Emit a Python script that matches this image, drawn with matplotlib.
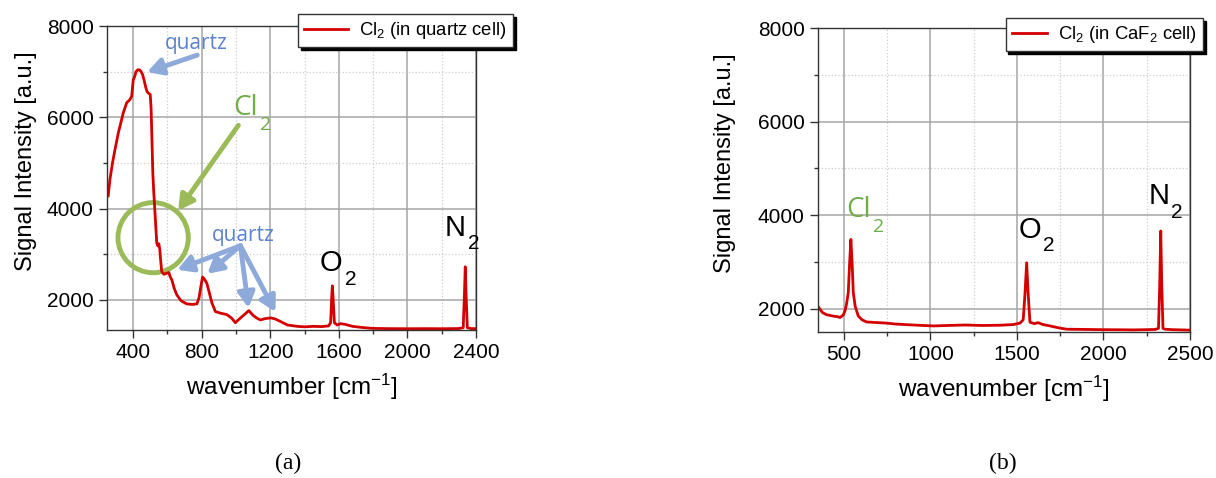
import numpy as np
import matplotlib
matplotlib.use('Agg')
import matplotlib.pyplot as plt
from matplotlib.patches import Ellipse
from matplotlib.ticker import MultipleLocator

plt.rcParams['font.family'] = ['Liberation Sans', 'DejaVu Sans']
plt.rcParams['mathtext.default'] = 'regular'

# panel (a): Cl2 in quartz cell
wn_a = [255, 265, 280, 295, 314, 330, 343, 363, 380, 392, 401, 410, 417, 427, 437, 447,
        456, 465, 475, 482, 489, 500, 505, 509, 515, 520, 528, 538, 545, 550, 556, 560,
        567, 580, 597, 609, 615, 626, 640, 655, 680, 713, 745, 772, 785, 792, 805, 815,
        830, 845, 860, 880, 909, 947, 975, 996, 1025, 1050, 1075, 1100, 1122, 1143, 1170,
        1205, 1230, 1260, 1300, 1358, 1400, 1450, 1500, 1540, 1552, 1558, 1562, 1566,
        1574, 1590, 1610, 1640, 1680, 1750, 1800, 1900, 2000, 2100, 2200, 2300, 2325,
        2332, 2337, 2342, 2349, 2370, 2400]
int_a = [4280, 4640, 5000, 5300, 5660, 5900, 6100, 6320, 6380, 6460, 6820, 6900, 7000,
         7040, 7040, 7000, 6930, 6800, 6640, 6560, 6530, 6500, 6200, 5660, 4800, 4400,
         3890, 3250, 3180, 3230, 3100, 2900, 2620, 2560, 2585, 2600, 2520, 2440, 2250,
         2110, 1980, 1912, 1900, 1912, 2050, 2220, 2500, 2460, 2365, 2150, 1930, 1745,
         1710, 1677, 1600, 1500, 1600, 1680, 1765, 1660, 1600, 1560, 1590, 1605, 1580,
         1525, 1450, 1420, 1410, 1420, 1415, 1430, 1500, 2050, 2308, 2050, 1500, 1450,
         1480, 1460, 1420, 1390, 1375, 1370, 1368, 1370, 1368, 1372, 1390, 2100, 2725,
         2100, 1390, 1372, 1370]

# panel (b): Cl2 in CaF2 cell
wn_b = [355, 376, 400, 438, 460, 477, 495, 506, 515, 525, 533, 540, 547, 554, 565, 583,
        605, 631, 700, 747, 800, 900, 1016, 1100, 1200, 1300, 1401, 1480, 1517, 1536,
        1546, 1556, 1565, 1575, 1600, 1623, 1650, 1691, 1740, 1787, 1900, 2000, 2100,
        2172, 2250, 2300, 2318, 2325, 2331, 2337, 2344, 2355, 2400, 2450, 2500]
int_b = [2020, 1915, 1870, 1840, 1830, 1810, 1860, 1950, 2100, 2340, 3000, 3480, 3000,
         2340, 2050, 1840, 1760, 1715, 1700, 1690, 1670, 1650, 1630, 1640, 1650, 1640,
         1645, 1660, 1690, 1760, 2300, 2980, 2300, 1710, 1680, 1700, 1660, 1630, 1590,
         1560, 1555, 1550, 1548, 1545, 1550, 1555, 1580, 2500, 3660, 2500, 1580, 1560,
         1550, 1545, 1540]

line_red = '#d40000'
blue_txt = '#5b82cc'
blue_arr = '#8eaadb'
green = '#70ad47'
green_arr = '#9bbb59'

fig = plt.figure(figsize=(12.16, 4.78), dpi=100)
ax1 = fig.add_axes([0.088, 0.3096, 0.3035, 0.636])
ax2 = fig.add_axes([0.6727, 0.3054, 0.3059, 0.636])


def style(ax, xmaj, xmin, ylab_x):
    ax.xaxis.set_major_locator(MultipleLocator(xmaj))
    ax.xaxis.set_minor_locator(MultipleLocator(xmin))
    ax.yaxis.set_major_locator(MultipleLocator(2000))
    ax.yaxis.set_minor_locator(MultipleLocator(1000))
    ax.grid(which='major', color='#a6a6a6', linestyle='-', linewidth=1.1)
    ax.grid(which='minor', color='#cccccc', linestyle=':', linewidth=0.9)
    ax.set_axisbelow(True)
    ax.tick_params(which='major', direction='out', length=6, width=1, labelsize=15,
                   color='#333333')
    ax.tick_params(which='minor', direction='out', length=3, width=1, color='#333333')
    for s in ax.spines.values():
        s.set_color('#333333')
        s.set_linewidth(1)
    ax.set_xlabel('wavenumber [cm$^{-1}$]', fontsize=17.5, labelpad=7)
    ax.set_ylabel('Signal Intensity [a.u.]', fontsize=17)
    ax.yaxis.set_label_coords(ylab_x, 0.556)


ax1.plot(wn_a, int_a, color=line_red, lw=2, label='Cl$_2$ (in quartz cell)')
ax1.set_xlim(248, 2400)
ax1.set_ylim(1340, 8000)
style(ax1, 400, 200, -0.19)

ax2.plot(wn_b, int_b, color=line_red, lw=2, label='Cl$_2$ (in CaF$_2$ cell)')
ax2.set_xlim(350, 2500)
ax2.set_ylim(1500, 8000)
style(ax2, 500, 250, -0.22)

for ax, anchor, hl in [(ax1, (0.4219, 0.9707), 2.4), (ax2, (0.9893, 0.9623), 1.9)]:
    leg = ax.legend(loc='upper right', bbox_to_anchor=anchor, bbox_transform=fig.transFigure,
                    fontsize=13.3, fancybox=False, framealpha=1, edgecolor='#333333',
                    shadow={'color': 'black', 'alpha': 1}, handlelength=hl,
                    borderpad=0.33, handletextpad=0.6, borderaxespad=0)
    leg.get_frame().set_linewidth(1)

renderer = fig.canvas.get_renderer()


def chem(ax, x, y, main, sub, size=21, subsize=15, drop=9.5, **kw):
    t = ax.text(x, y, main, fontsize=size, ha='left', va='baseline', **kw)
    bb = t.get_window_extent(renderer)
    base = ax.transData.transform((x, y))[1]
    ax.annotate(sub, xy=(bb.x1, base), xycoords='figure pixels', xytext=(1.5, -drop),
                textcoords='offset points', fontsize=subsize, ha='left', va='baseline',
                annotation_clip=False, **kw)


arrow_kw = dict(arrowstyle='-|>,head_width=0.5,head_length=0.9', lw=3.5,
                shrinkA=0, shrinkB=0)

# annotations, panel (a)
ax1.annotate('', xy=(482, 6989), xytext=(774, 7363),
             arrowprops=dict(color=blue_arr, **arrow_kw))
ax1.text(768, 7626, 'quartz', color=blue_txt, fontsize=15, family='Open Sans',
         ha='center', va='center')

quartz_heads = [(657, 2660), (833, 2571), (1073, 1824), (1230, 1736)]
for hx, hy in quartz_heads:
    ax1.annotate('', xy=(hx, hy), xytext=(1026, 3187),
                 arrowprops=dict(color=blue_arr, **arrow_kw))
ax1.text(1043, 3407, 'quartz', color=blue_txt, fontsize=15, family='Open Sans',
         ha='center', va='center')

ax1.annotate('', xy=(663, 3956), xytext=(1014, 5824),
             arrowprops=dict(color=green_arr, **arrow_kw))
chem(ax1, 985, 6044, 'Cl', '2', size=20, subsize=14, drop=10.5, color=green,
     family='Open Sans')
ax1.add_patch(Ellipse((517, 3363), 410, 1538, fill=False, edgecolor=green_arr, lw=3.5,
                      clip_on=False))
chem(ax1, 1489, 2622, 'O', '2')
chem(ax1, 2219, 3406, 'N', '2')

# annotations, panel (b)
chem(ax2, 512, 3957, 'Cl', '2', size=20, subsize=14, drop=10.5, color=green,
     family='Open Sans')
chem(ax2, 1507, 3517, 'O', '2')
chem(ax2, 2259, 4229, 'N', '2')

fig.text(288 / 1216, 1 - 463 / 478, '(a)', fontsize=17, family='Liberation Serif',
         ha='center', va='center')
fig.text(1003 / 1216, 1 - 463 / 478, '(b)', fontsize=17, family='Liberation Serif',
         ha='center', va='center')

fig.savefig('out.png', dpi=100)
